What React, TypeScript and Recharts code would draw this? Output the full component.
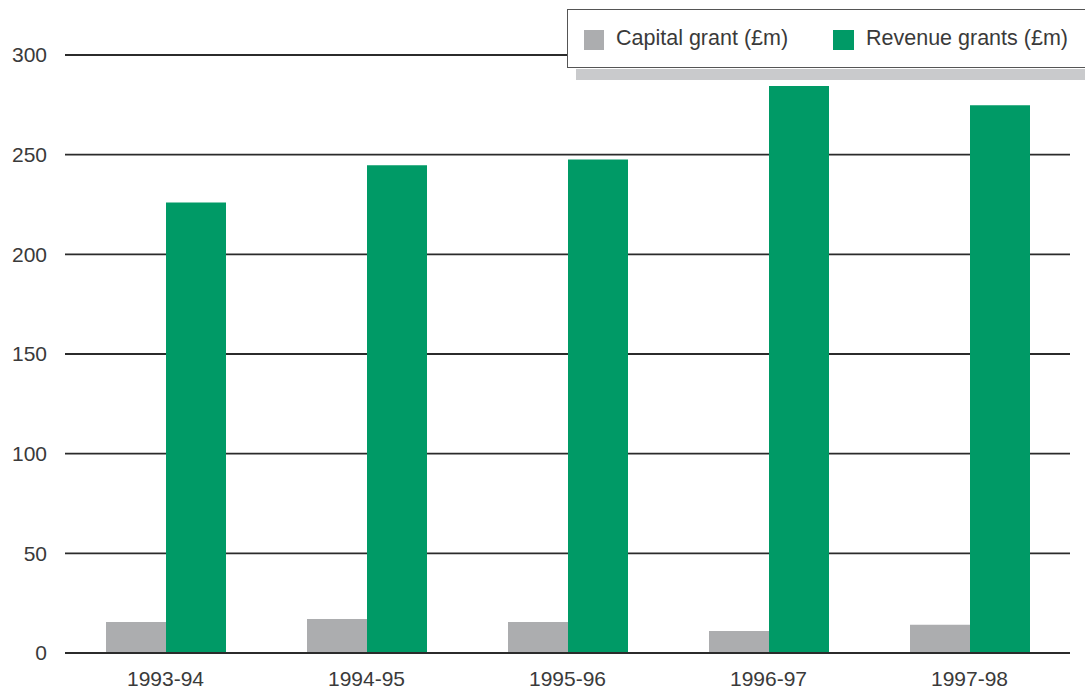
import React from 'react';
import { BarChart, Bar, XAxis, YAxis, CartesianGrid } from 'recharts';

const YEARS = ['1993-94', '1994-95', '1995-96', '1996-97', '1997-98'];
const CAPITAL = [15.5, 17, 15.5, 11, 14.2];
const REVENUE = [226, 244.7, 247.6, 284.4, 274.8];
const Y_TICKS = [0, 50, 100, 150, 200, 250, 300];

const GREY = '#acadaf';
const GREEN = '#009a66';
const FONT = '"Liberation Sans", Arial, Helvetica, sans-serif';

const rows = YEARS.map((year, i) => ({ year, capital: CAPITAL[i], revenue: REVENUE[i] }));

const App: React.FC = () => {
  return (
    <div style={{ position: 'absolute', left: 0, top: 0, width: 1085, height: 691, background: '#fff', overflow: 'hidden', fontFamily: FONT }}>
      <BarChart
        width={1085}
        height={691}
        data={rows}
        margin={{ top: 55, right: 15, bottom: 0, left: 0 }}
        barCategoryGap={41}
        barGap={0}
      >
        <CartesianGrid vertical={false} stroke="#2b2b2b" strokeWidth={1.8} />
        <XAxis
          dataKey="year"
          height={38}
          axisLine={{ stroke: '#2b2b2b', strokeWidth: 1.8 }}
          tickLine={false}
          tickSize={0}
          tickMargin={18}
          tick={{ fill: '#3a3a3a', fontSize: 21, fontFamily: FONT }}
        />
        <YAxis
          width={65}
          domain={[0, 300]}
          ticks={Y_TICKS}
          axisLine={false}
          tickLine={false}
          tickSize={0}
          tickMargin={18}
          tick={{ fill: '#3a3a3a', fontSize: 21, fontFamily: FONT }}
        />
        <Bar dataKey="capital" fill={GREY} isAnimationActive={false} />
        <Bar dataKey="revenue" fill={GREEN} isAnimationActive={false} />
      </BarChart>

      {/* legend box with its grey shadow strip */}
      <div style={{ position: 'absolute', left: 576, top: 69, width: 520, height: 11, background: '#c9cacc' }} />
      <div
        style={{
          position: 'absolute', left: 567, top: 9, width: 540, height: 59,
          background: '#fff', border: '1px solid #555', boxSizing: 'border-box',
        }}
      >
        <div style={{ position: 'absolute', left: 16, top: 20, width: 20, height: 20, background: GREY }} />
        <div style={{ position: 'absolute', left: 48, top: 16, fontSize: 21.5, color: '#3a3a3a', whiteSpace: 'nowrap' }}>
          Capital grant (£m)
        </div>
        <div style={{ position: 'absolute', left: 265, top: 20, width: 21, height: 20, background: GREEN }} />
        <div style={{ position: 'absolute', left: 298, top: 16, fontSize: 21.5, color: '#3a3a3a', whiteSpace: 'nowrap' }}>
          Revenue grants (£m)
        </div>
      </div>
    </div>
  );
};

export default App;
